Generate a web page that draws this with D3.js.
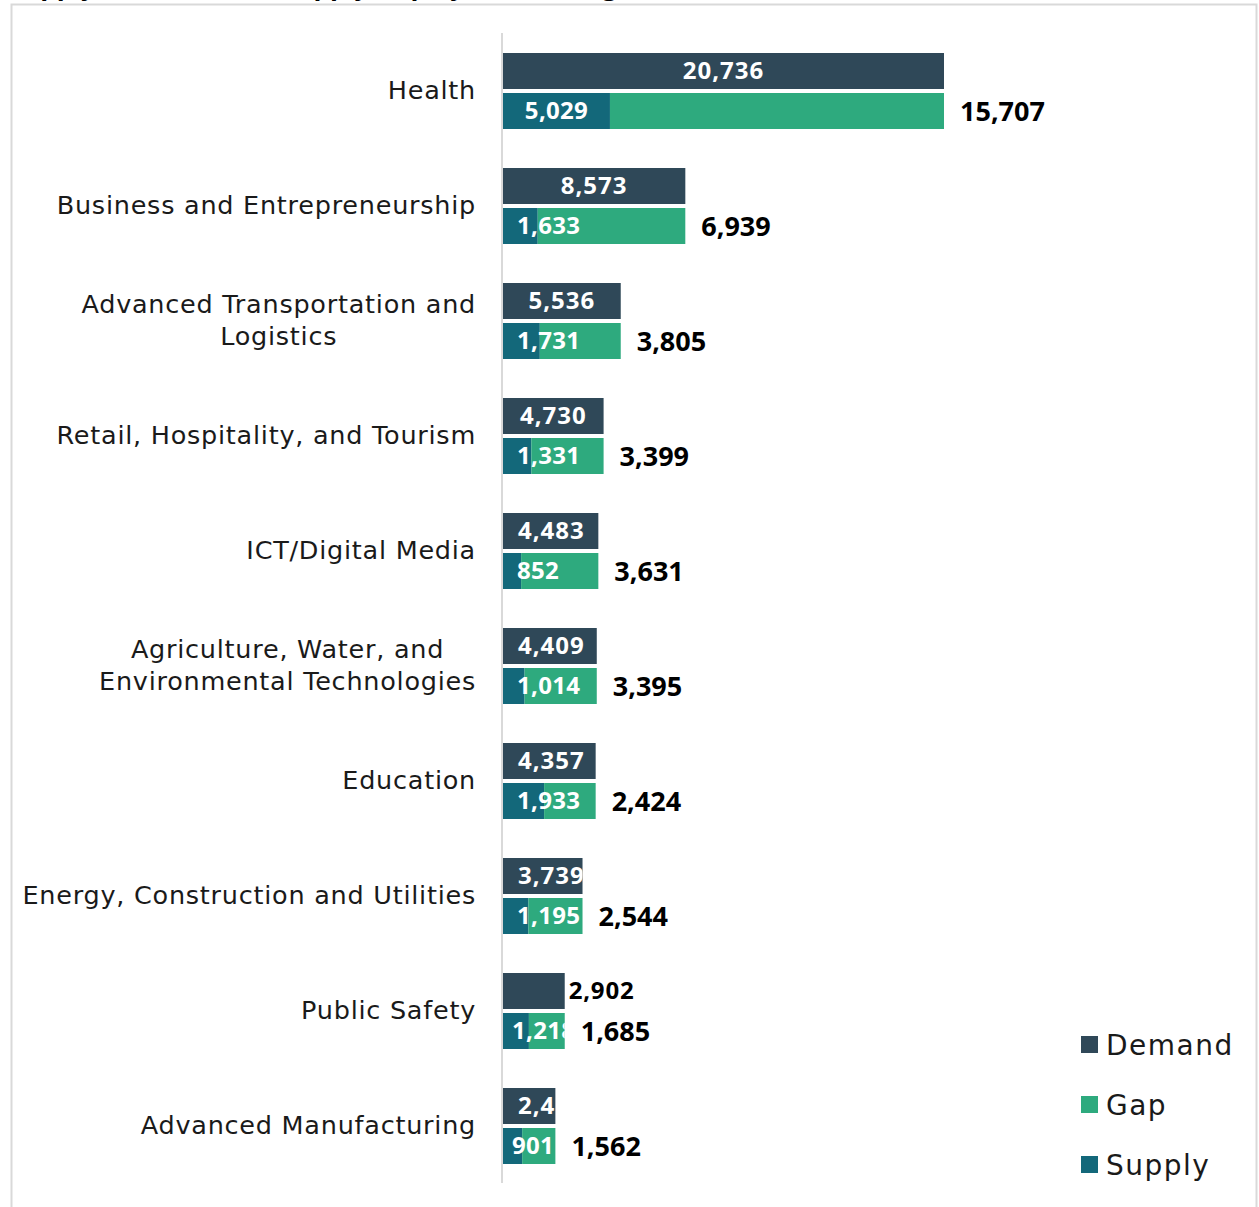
<!DOCTYPE html>
<html>
<head>
<meta charset="utf-8">
<script src="https://cdn.jsdelivr.net/npm/d3@7"></script>
<style>
  body { margin: 0; background: #fff; }
  svg { display: block; }
</style>
</head>
<body>
<div id="chart"></div>
<script>
var categories = [
    "Health",
    "Business and Entrepreneurship",
    "Advanced Transportation and|Logistics",
    "Retail, Hospitality, and Tourism",
    "ICT/Digital Media",
    "Agriculture, Water, and|Environmental Technologies",
    "Education",
    "Energy, Construction and Utilities",
    "Public Safety",
    "Advanced Manufacturing"
];
var demand = [20736, 8573, 5536, 4730, 4483, 4409, 4357, 3739, 2902, 2463];
var supply = [5029, 1633, 1731, 1331, 852, 1014, 1933, 1195, 1218, 901];
var gap = [15707, 6939, 3805, 3399, 3631, 3395, 2424, 2544, 1685, 1562];
var demandLabelPos = ["in", "in", "in", "in", "in", "in", "in", "in", "out", "in"];
var legendItems = ["Demand", "Gap", "Supply"];
var title = "(Supply, Demand and Supply Gap by Sector (Avg.)";

var color = {Demand: "#2f4858", Gap: "#2eaa7e", Supply: "#13687a"};
var labelFont = "'DejaVu Sans', sans-serif";
var numFont = "'Open Sans', sans-serif";

var W = 1259, H = 1207;
var svg = d3.select("#chart").append("svg")
    .attr("width", W)
    .attr("height", H);

// frame (title is cut off at the top in the original)
svg.append("text")
    .attr("x", 0)
    .attr("y", -5)
    .style("font", "bold 26px " + numFont)
    .text(title);
svg.append("rect")
    .attr("x", 11.5).attr("y", 4.5)
    .attr("width", 1245).attr("height", 1260)
    .attr("fill", "none")
    .attr("stroke", "#d9d9d9")
    .attr("stroke-width", 2);

var x0 = 503;
var x = d3.scaleLinear()
    .domain([0, 25000])
    .range([x0, x0 + 25000 * 441 / 20736]);

var y = d3.scaleBand()
    .domain(categories)
    .range([33, 1183]);

var rows = categories.map(function(c, i) {
    return {cat: c, i: i, demand: demand[i], supply: supply[i], gap: gap[i], pos: demandLabelPos[i]};
});

// category axis line
svg.append("line")
    .attr("x1", 502).attr("x2", 502)
    .attr("y1", y.range()[0]).attr("y2", y.range()[1])
    .attr("stroke", "#d9d9d9")
    .attr("stroke-width", 2);

var defs = svg.append("defs");

var row = svg.selectAll(".row")
    .data(rows)
    .enter().append("g")
    .attr("class", "row")
    .attr("transform", d => "translate(0," + y(d.cat) + ")");

// clip paths so inner labels stop at bar ends
row.each(function(d) {
    defs.append("clipPath").attr("id", "cd" + d.i)
        .append("rect")
        .attr("x", x0).attr("y", 20)
        .attr("width", x(d.demand) - x0).attr("height", 36);
    defs.append("clipPath").attr("id", "cs" + d.i)
        .append("rect")
        .attr("x", x0).attr("y", 60)
        .attr("width", x(d.supply + d.gap) - x0).attr("height", 36);
});

row.append("rect")
    .attr("x", x(0))
    .attr("y", 20)
    .attr("width", d => x(d.demand) - x(0))
    .attr("height", 36)
    .attr("fill", color.Demand);

row.append("rect")
    .attr("x", x(0))
    .attr("y", 60)
    .attr("width", d => x(d.supply) - x(0))
    .attr("height", 36)
    .attr("fill", color.Supply);

row.append("rect")
    .attr("x", d => x(d.supply))
    .attr("y", 60)
    .attr("width", d => x(d.supply + d.gap) - x(d.supply))
    .attr("height", 36)
    .attr("fill", color.Gap);

var fmt = d3.format(",");

// demand labels
row.append("text")
    .attr("y", 38)
    .attr("dy", "0.35em")
    .attr("clip-path", d => d.pos == "in" ? "url(#cd" + d.i + ")" : null)
    .style("font", "bold 24px " + numFont)
    .style("letter-spacing", d => d.pos == "in" ? "1px" : "0.8px")
    .attr("fill", d => d.pos == "in" ? "#fff" : "#000")
    .text(d => fmt(d.demand))
    .each(function(d) {
        var w = this.getComputedTextLength();
        var xs;
        if (d.pos == "out") {
            xs = x(d.demand) + 4;
        } else {
            var mid = (x0 + x(d.demand)) / 2;
            xs = Math.max(mid - w / 2, x0 + 15);
        }
        d3.select(this).attr("x", xs);
    });

// supply labels
row.append("text")
    .attr("y", 78)
    .attr("dy", "0.35em")
    .attr("clip-path", d => "url(#cs" + d.i + ")")
    .style("font", "bold 24px " + numFont)
    .style("letter-spacing", "0.3px")
    .attr("fill", "#fff")
    .text(d => fmt(d.supply))
    .each(function(d) {
        var w = this.getComputedTextLength();
        var mid = (x0 + x(d.supply)) / 2;
        var pad = x(d.supply + d.gap) - x0 < 70 ? 9 : 14;
        d3.select(this).attr("x", Math.max(mid - w / 2, x0 + pad));
    });

// gap labels
row.append("text")
    .attr("x", d => x(d.supply + d.gap) + 16)
    .attr("y", 78)
    .attr("dy", "0.37em")
    .style("font", "bold 27px " + numFont)
    .attr("fill", "#000")
    .text(d => fmt(d.gap));

// category labels, right-aligned block, lines centred
row.append("text")
    .attr("text-anchor", "middle")
    .style("font", "25.5px " + labelFont)
    .style("letter-spacing", "0.75px")
    .attr("fill", "#1a1a1a")
    .each(function(d) {
        var lines = d.cat.split("|");
        var t = d3.select(this);
        var maxW = 0;
        lines.forEach(function(l, k) {
            var ts = t.append("tspan")
                .attr("x", 0)
                .attr("y", 57 + (k - (lines.length - 1) / 2) * 32)
                .attr("dy", "0.35em")
                .text(l);
            maxW = Math.max(maxW, ts.node().getComputedTextLength());
        });
        t.selectAll("tspan").attr("x", 476 - maxW / 2);
    });

// legend
var legend = svg.selectAll(".legend")
    .data(legendItems)
    .enter().append("g")
    .attr("class", "legend")
    .attr("transform", (d, i) => "translate(1081," + (1036 + i * 60) + ")");

legend.append("rect")
    .attr("width", 17).attr("height", 17)
    .attr("fill", d => color[d]);

legend.append("text")
    .attr("x", 25)
    .attr("y", 9)
    .attr("dy", "0.35em")
    .style("font", "28px " + labelFont)
    .style("letter-spacing", "1.5px")
    .attr("fill", "#1a1a1a")
    .text(d => d);
</script>
</body>
</html>
